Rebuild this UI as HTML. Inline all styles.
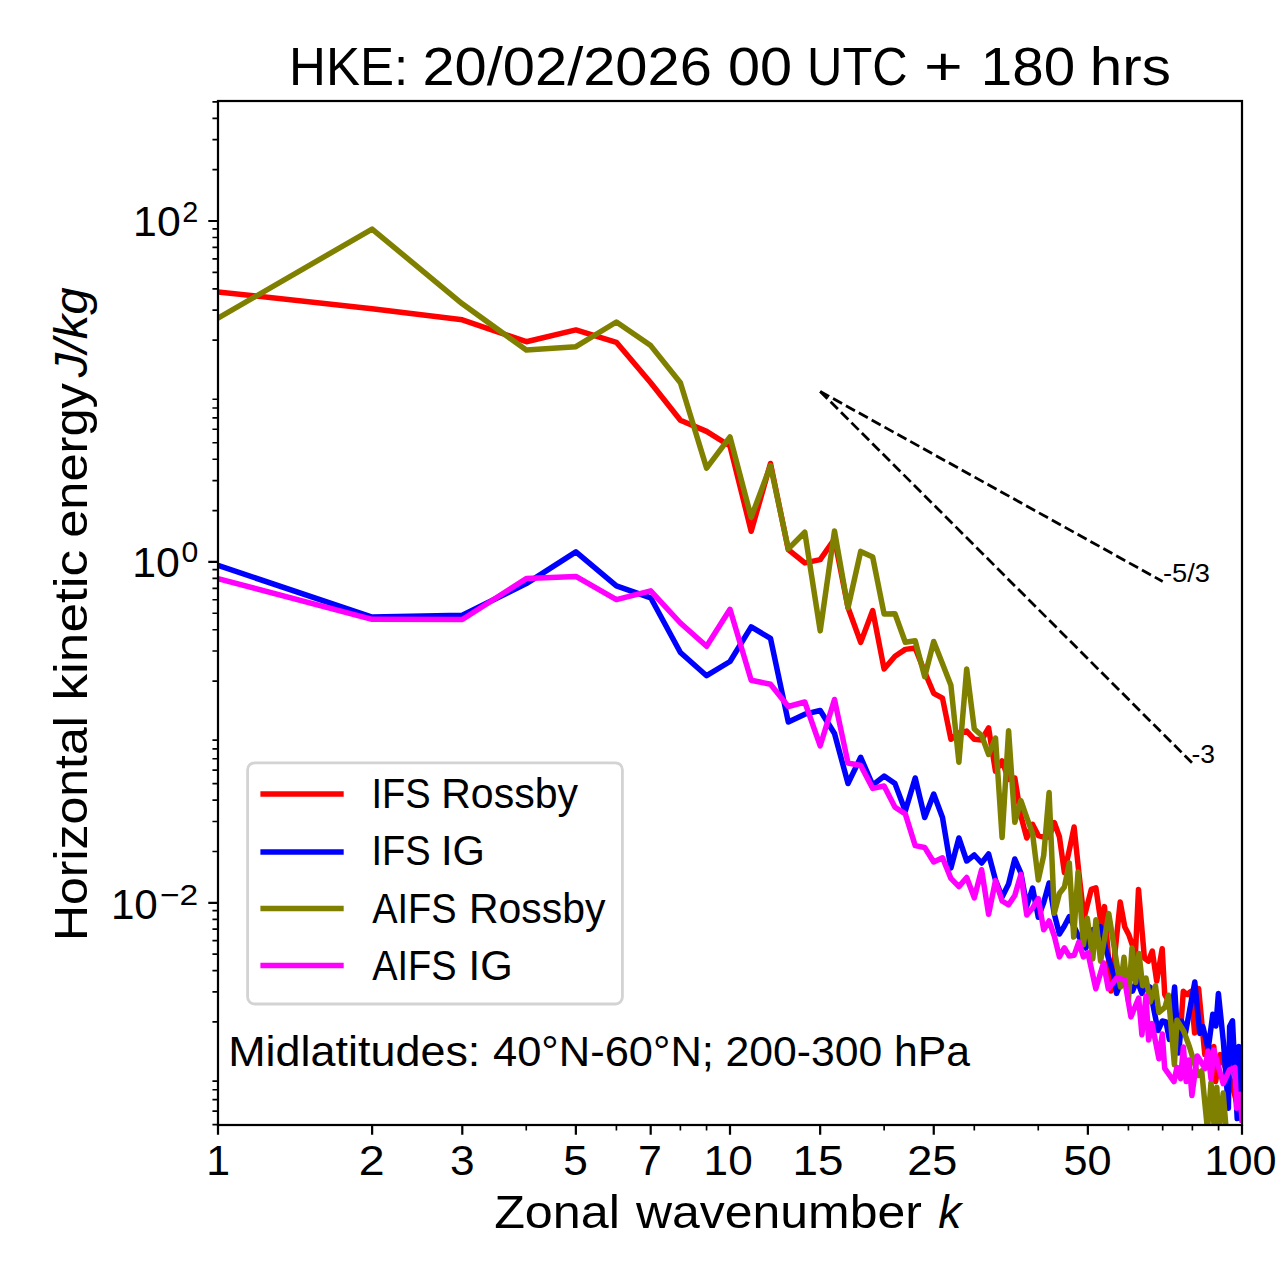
<!DOCTYPE html><html><head><meta charset="utf-8"><style>html,body{margin:0;padding:0;background:#fff;}svg{display:block;}</style></head><body>
<svg width="1280" height="1288" viewBox="0 0 1280 1288" font-family='"Liberation Sans", sans-serif'>
<rect x="0" y="0" width="1280" height="1288" fill="#fff"/>
<clipPath id="ax"><rect x="218.0" y="101.0" width="1024.0" height="1024.0"/></clipPath>
<g clip-path="url(#ax)" fill="none" stroke-width="5.5" stroke-linejoin="round" stroke-linecap="square">
<path d="M218.0,291.9 L372.1,308.7 L462.3,319.8 L526.3,341.7 L575.9,329.9 L616.4,342.3 L650.7,382.8 L680.4,420.3 L706.6,431.4 L730.0,446.0 L751.2,531.3 L770.5,463.5 L788.3,549.7 L804.8,562.9 L820.2,559.6 L834.5,539.0 L848.0,607.5 L860.7,642.4 L872.7,610.5 L884.1,669.0 L895.0,656.3 L905.3,649.4 L915.2,648.0 L924.7,672.0 L933.7,693.3 L942.5,698.2 L950.9,739.3 L958.9,733.0 L966.7,731.1 L974.3,739.3 L981.6,740.0 L988.6,728.0 L995.5,771.3 L1002.1,761.0 L1008.6,779.4 L1014.8,778.0 L1020.9,816.0 L1026.8,838.0 L1032.6,824.4 L1038.3,835.5 L1043.7,837.0 L1049.1,837.0 L1054.3,822.5 L1059.4,836.7 L1064.4,872.7 L1069.3,850.0 L1074.1,827.0 L1078.8,872.0 L1084.0,918.0 L1091.3,889.4 L1095.9,887.8 L1101.4,926.1 L1104.5,906.6 L1111.0,991.0 L1120.2,901.9 L1124.8,926.9 L1128.8,934.7 L1135.4,954.2 L1138.5,889.4 L1144.4,958.0 L1148.3,961.2 L1152.3,951.1 L1156.7,981.0 L1162.2,948.7 L1164.7,994.4 L1181.0,1024.0 L1183.3,991.3 L1187.0,994.5 L1191.0,991.3 L1194.6,1033.0 L1198.6,988.5 L1204.8,1054.5 L1213.8,1046.6 L1215.6,1081.4 L1220.3,1054.6 L1232.0,1084.5 L1240.6,1118.0 L1242.0,1120.0" stroke="#ff0000"/>
<path d="M218.0,565.4 L372.1,617.1 L462.3,615.3 L526.3,583.6 L575.9,551.9 L616.4,585.8 L650.7,597.8 L680.4,652.5 L706.6,675.7 L730.0,661.5 L751.2,626.9 L770.5,638.4 L788.3,722.0 L804.8,714.2 L820.2,710.5 L834.5,733.5 L848.0,783.5 L860.7,757.3 L872.7,785.2 L884.1,776.1 L895.0,783.6 L905.3,811.0 L915.2,778.0 L924.7,817.5 L933.7,794.0 L942.5,817.5 L950.9,868.0 L958.9,838.0 L966.7,861.0 L974.3,855.0 L981.6,863.0 L988.6,854.0 L995.5,880.0 L1002.1,897.0 L1008.6,884.0 L1014.8,859.0 L1020.9,873.0 L1026.8,906.0 L1032.6,888.0 L1038.3,917.3 L1043.7,902.5 L1049.1,883.0 L1054.3,914.0 L1059.4,934.0 L1064.4,926.0 L1069.3,916.6 L1078.0,935.0 L1085.8,948.0 L1092.0,930.0 L1100.6,926.9 L1106.0,950.0 L1113.9,975.3 L1116.5,993.4 L1124.0,975.0 L1132.5,991.1 L1137.0,980.0 L1141.9,993.4 L1146.0,985.0 L1150.3,987.5 L1152.9,1004.7 L1158.0,1030.5 L1162.3,1021.0 L1166.0,1022.0 L1169.4,1039.4 L1174.6,987.0 L1178.7,1053.0 L1181.5,1021.0 L1185.5,1032.8 L1194.8,982.0 L1199.8,1033.4 L1202.9,1026.6 L1208.2,1049.0 L1212.8,1014.2 L1215.9,1026.0 L1218.4,993.5 L1223.4,1042.0 L1228.4,1108.2 L1229.6,1026.6 L1232.5,1020.8 L1237.2,1118.6 L1238.9,1046.4 L1242.0,1092.0" stroke="#0000ff"/>
<path d="M218.0,318.1 L372.1,229.1 L462.3,303.8 L526.3,350.0 L575.9,346.7 L616.4,322.0 L650.7,345.6 L680.4,382.8 L706.6,468.1 L730.0,436.9 L751.2,517.3 L770.5,465.6 L788.3,548.9 L804.8,532.2 L820.2,630.9 L834.5,530.9 L848.0,607.9 L860.7,551.4 L872.7,557.1 L884.1,614.0 L895.0,613.7 L905.3,642.3 L915.2,640.7 L924.7,676.8 L933.7,641.5 L942.5,663.7 L950.9,685.2 L958.9,762.3 L966.7,669.0 L974.3,729.0 L981.6,735.5 L988.6,754.5 L995.5,738.0 L1002.1,837.6 L1008.6,730.7 L1014.8,822.3 L1020.9,800.6 L1026.8,817.7 L1032.6,833.8 L1038.3,880.0 L1043.7,855.5 L1049.1,792.4 L1054.3,913.3 L1059.4,893.5 L1064.4,887.0 L1069.3,863.0 L1073.7,937.0 L1078.0,872.0 L1083.4,944.8 L1087.3,918.3 L1092.8,958.9 L1095.9,919.8 L1100.6,961.2 L1108.8,913.6 L1120.5,987.0 L1124.0,957.3 L1128.4,1001.0 L1132.0,948.0 L1135.6,982.5 L1139.0,953.4 L1142.6,985.8 L1146.0,978.0 L1150.3,1002.0 L1155.5,985.8 L1158.9,1012.4 L1164.9,1007.3 L1168.4,995.2 L1174.4,1064.8 L1177.0,1020.2 L1183.8,1031.3 L1189.5,1047.0 L1198.2,1075.5 L1201.7,1071.0 L1207.5,1130.0 L1211.0,1082.5 L1214.4,1130.0 L1216.8,1087.2 L1219.1,1130.0 L1223.2,1093.0 L1226.6,1135.0 L1242.0,1140.0" stroke="#808000"/>
<path d="M218.0,578.6 L372.1,619.3 L462.3,619.5 L526.3,578.6 L575.9,576.4 L616.4,599.6 L650.7,590.8 L680.4,623.0 L706.6,646.3 L730.0,609.3 L751.2,680.2 L770.5,684.3 L788.3,706.5 L804.8,702.0 L820.2,745.8 L834.5,699.5 L848.0,763.0 L860.7,765.5 L872.7,788.4 L884.1,786.0 L895.0,807.3 L905.3,813.9 L915.2,845.6 L924.7,847.5 L933.7,862.0 L942.5,857.8 L950.9,878.4 L958.9,886.6 L966.7,877.5 L974.3,897.8 L981.6,869.7 L988.6,914.2 L995.5,880.6 L1002.1,901.0 L1008.6,904.8 L1014.8,895.5 L1020.9,874.4 L1026.8,915.0 L1032.6,908.0 L1038.3,898.6 L1043.7,929.8 L1049.1,921.0 L1054.3,936.0 L1059.4,956.9 L1064.4,947.9 L1069.3,956.1 L1074.1,955.3 L1078.8,942.1 L1083.4,956.9 L1087.9,952.8 L1095.8,988.7 L1103.5,963.0 L1108.3,988.7 L1116.9,977.8 L1124.7,980.2 L1130.9,1016.9 L1138.7,998.1 L1141.9,1034.8 L1146.0,996.1 L1148.6,1040.0 L1152.0,1023.6 L1158.9,1058.8 L1162.3,1033.9 L1164.7,1068.4 L1174.0,1081.6 L1176.9,1067.5 L1180.6,1078.7 L1183.4,1046.9 L1186.2,1081.6 L1189.0,1060.0 L1191.9,1095.6 L1197.3,1056.0 L1205.1,1068.5 L1208.0,1051.0 L1211.0,1079.0 L1213.9,1050.0 L1223.2,1083.7 L1229.6,1069.7 L1234.9,1067.4 L1236.6,1108.2 L1240.0,1094.2 L1242.0,1120.0" stroke="#ff00ff"/>
</g>
<path d="M820.2,391.4 L1162.7,581.5" stroke="#000" stroke-width="2.78" stroke-dasharray="10.28,4.44" fill="none"/>
<path d="M820.2,391.4 L1192.4,763.2" stroke="#000" stroke-width="2.78" stroke-dasharray="10.28,4.44" fill="none"/>
<rect x="218.0" y="101.0" width="1024.0" height="1024.0" fill="none" stroke="#000" stroke-width="2.22"/>
<path d="M218.00,1125.0 V1134.72 M372.13,1125.0 V1134.72 M462.29,1125.0 V1134.72 M575.87,1125.0 V1134.72 M650.69,1125.0 V1134.72 M730.00,1125.0 V1134.72 M820.16,1125.0 V1134.72 M933.75,1125.0 V1134.72 M1087.87,1125.0 V1134.72 M1242.00,1125.0 V1134.72" stroke="#000" stroke-width="2.22"/>
<path d="M526.25,1125.0 V1130.56 M616.41,1125.0 V1130.56 M680.38,1125.0 V1130.56 M706.57,1125.0 V1130.56 M884.13,1125.0 V1130.56 M974.29,1125.0 V1130.56 M1038.25,1125.0 V1130.56 M1128.41,1125.0 V1130.56 M1162.69,1125.0 V1130.56 M1192.38,1125.0 V1130.56 M1218.57,1125.0 V1130.56" stroke="#000" stroke-width="1.67"/>
<path d="M218.0,902.80 H208.28 M218.0,561.90 H208.28 M218.0,221.00 H208.28" stroke="#000" stroke-width="2.22"/>
<path d="M218.0,1124.56 H212.44 M218.0,1111.06 H212.44 M218.0,1099.65 H212.44 M218.0,1089.77 H212.44 M218.0,1081.05 H212.44 M218.0,1021.94 H212.44 M218.0,991.92 H212.44 M218.0,970.63 H212.44 M218.0,954.11 H212.44 M218.0,940.61 H212.44 M218.0,929.20 H212.44 M218.0,919.32 H212.44 M218.0,910.60 H212.44 M218.0,851.49 H212.44 M218.0,821.47 H212.44 M218.0,800.18 H212.44 M218.0,783.66 H212.44 M218.0,770.16 H212.44 M218.0,758.75 H212.44 M218.0,748.87 H212.44 M218.0,740.15 H212.44 M218.0,681.04 H212.44 M218.0,651.02 H212.44 M218.0,629.73 H212.44 M218.0,613.21 H212.44 M218.0,599.71 H212.44 M218.0,588.30 H212.44 M218.0,578.42 H212.44 M218.0,569.70 H212.44 M218.0,510.59 H212.44 M218.0,480.57 H212.44 M218.0,459.28 H212.44 M218.0,442.76 H212.44 M218.0,429.26 H212.44 M218.0,417.85 H212.44 M218.0,407.97 H212.44 M218.0,399.25 H212.44 M218.0,340.14 H212.44 M218.0,310.12 H212.44 M218.0,288.83 H212.44 M218.0,272.31 H212.44 M218.0,258.81 H212.44 M218.0,247.40 H212.44 M218.0,237.52 H212.44 M218.0,228.80 H212.44 M218.0,169.69 H212.44 M218.0,139.67 H212.44 M218.0,118.38 H212.44 M218.0,101.86 H212.44" stroke="#000" stroke-width="1.67"/>
<rect x="247.6" y="762.8" width="374.8" height="241.2" rx="7" ry="7" fill="#fff" fill-opacity="0.8" stroke="#d3d3d3" stroke-width="2.8"/>
<path d="M260.4,793.9 H343.7" stroke="#ff0000" stroke-width="5.5"/>
<path d="M260.4,851.9 H343.7" stroke="#0000ff" stroke-width="5.5"/>
<path d="M260.4,908.5 H343.7" stroke="#808000" stroke-width="5.5"/>
<path d="M260.4,965.6 H343.7" stroke="#ff00ff" stroke-width="5.5"/>
<text x="288.99" y="85.3" font-size="53.1" textLength="119.23" lengthAdjust="spacingAndGlyphs">HKE:</text>
<text x="422.47" y="85.3" font-size="53.1" textLength="289.35" lengthAdjust="spacingAndGlyphs">20/02/2026</text>
<text x="727.97" y="85.3" font-size="53.1" textLength="64.07" lengthAdjust="spacingAndGlyphs">00</text>
<text x="807.09" y="85.3" font-size="53.1" textLength="100.51" lengthAdjust="spacingAndGlyphs">UTC</text>
<text x="924.03" y="85.3" font-size="53.1" textLength="38.75" lengthAdjust="spacingAndGlyphs">+</text>
<text x="980.86" y="85.3" font-size="53.1" textLength="94.21" lengthAdjust="spacingAndGlyphs">180</text>
<text x="1089.71" y="85.3" font-size="53.1" textLength="81.14" lengthAdjust="spacingAndGlyphs">hrs</text>
<text x="494.16" y="1227.5" font-size="46.4" textLength="125.79" lengthAdjust="spacingAndGlyphs">Zonal</text>
<text x="636.00" y="1227.5" font-size="46.4" textLength="285.80" lengthAdjust="spacingAndGlyphs">wavenumber</text>
<text x="938.14" y="1227.5" font-size="46.4" font-style="italic" textLength="23.14" lengthAdjust="spacingAndGlyphs">k</text>
<text x="228.21" y="1066.25" font-size="42.7" textLength="252.13" lengthAdjust="spacingAndGlyphs">Midlatitudes:</text>
<text x="492.99" y="1066.25" font-size="42.7" textLength="220.96" lengthAdjust="spacingAndGlyphs">40°N-60°N;</text>
<text x="725.60" y="1066.25" font-size="42.7" textLength="244.40" lengthAdjust="spacingAndGlyphs">200-300 hPa</text>
<text x="371.39" y="808.0" font-size="42.7" textLength="59.21" lengthAdjust="spacingAndGlyphs">IFS</text>
<text x="441.29" y="808.0" font-size="42.7" textLength="136.62" lengthAdjust="spacingAndGlyphs">Rossby</text>
<text x="371.39" y="865.2" font-size="42.7" textLength="59.21" lengthAdjust="spacingAndGlyphs">IFS</text>
<text x="440.89" y="865.2" font-size="42.7" textLength="43.95" lengthAdjust="spacingAndGlyphs">IG</text>
<text x="372.20" y="923.0" font-size="42.7" textLength="84.38" lengthAdjust="spacingAndGlyphs">AIFS</text>
<text x="468.99" y="923.0" font-size="42.7" textLength="136.42" lengthAdjust="spacingAndGlyphs">Rossby</text>
<text x="372.20" y="980.2" font-size="42.7" textLength="84.38" lengthAdjust="spacingAndGlyphs">AIFS</text>
<text x="468.55" y="980.2" font-size="42.7" textLength="44.06" lengthAdjust="spacingAndGlyphs">IG</text>
<text x="206.32" y="1175.0" font-size="42.7" textLength="23.79" lengthAdjust="spacingAndGlyphs">1</text>
<text x="358.65" y="1175.0" font-size="42.7" textLength="25.91" lengthAdjust="spacingAndGlyphs">2</text>
<text x="449.92" y="1175.0" font-size="42.7" textLength="24.60" lengthAdjust="spacingAndGlyphs">3</text>
<text x="563.29" y="1175.0" font-size="42.7" textLength="24.60" lengthAdjust="spacingAndGlyphs">5</text>
<text x="638.11" y="1175.0" font-size="42.7" textLength="23.86" lengthAdjust="spacingAndGlyphs">7</text>
<text x="703.63" y="1175.0" font-size="42.7" textLength="49.13" lengthAdjust="spacingAndGlyphs">10</text>
<text x="792.51" y="1175.0" font-size="42.7" textLength="50.90" lengthAdjust="spacingAndGlyphs">15</text>
<text x="907.23" y="1175.0" font-size="42.7" textLength="50.11" lengthAdjust="spacingAndGlyphs">25</text>
<text x="1063.57" y="1175.0" font-size="42.7" textLength="48.07" lengthAdjust="spacingAndGlyphs">50</text>
<text x="1204.51" y="1175.0" font-size="42.7" textLength="72.12" lengthAdjust="spacingAndGlyphs">100</text>
<text x="133.13" y="236.0" font-size="42.7" textLength="47.63" lengthAdjust="spacingAndGlyphs">10</text>
<text x="182.24" y="222.1" font-size="29.4" textLength="15.99" lengthAdjust="spacingAndGlyphs">2</text>
<text x="132.23" y="576.9" font-size="42.7" textLength="47.65" lengthAdjust="spacingAndGlyphs">10</text>
<text x="181.43" y="562.3" font-size="29.4" textLength="16.78" lengthAdjust="spacingAndGlyphs">0</text>
<text x="110.88" y="919.2" font-size="42.7" textLength="46.98" lengthAdjust="spacingAndGlyphs">10</text>
<text x="159.86" y="905.1" font-size="29.4" textLength="38.26" lengthAdjust="spacingAndGlyphs">−2</text>
<text x="1163.02" y="581.7" font-size="25.9" textLength="46.96" lengthAdjust="spacingAndGlyphs">-5/3</text>
<text x="1191.48" y="763.4" font-size="25.9" textLength="23.55" lengthAdjust="spacingAndGlyphs">-3</text>
<text transform="translate(86.7,941.08) rotate(-90)" font-size="46.4" textLength="224.96" lengthAdjust="spacingAndGlyphs">Horizontal</text>
<text transform="translate(86.7,700.59) rotate(-90)" font-size="46.4" textLength="150.73" lengthAdjust="spacingAndGlyphs">kinetic</text>
<text transform="translate(86.7,537.80) rotate(-90)" font-size="46.4" textLength="154.71" lengthAdjust="spacingAndGlyphs">energy</text>
<text transform="translate(86.7,377.61) rotate(-90)" font-size="46.4" font-style="italic" textLength="90.20" lengthAdjust="spacingAndGlyphs">J/kg</text>
</svg></body></html>
